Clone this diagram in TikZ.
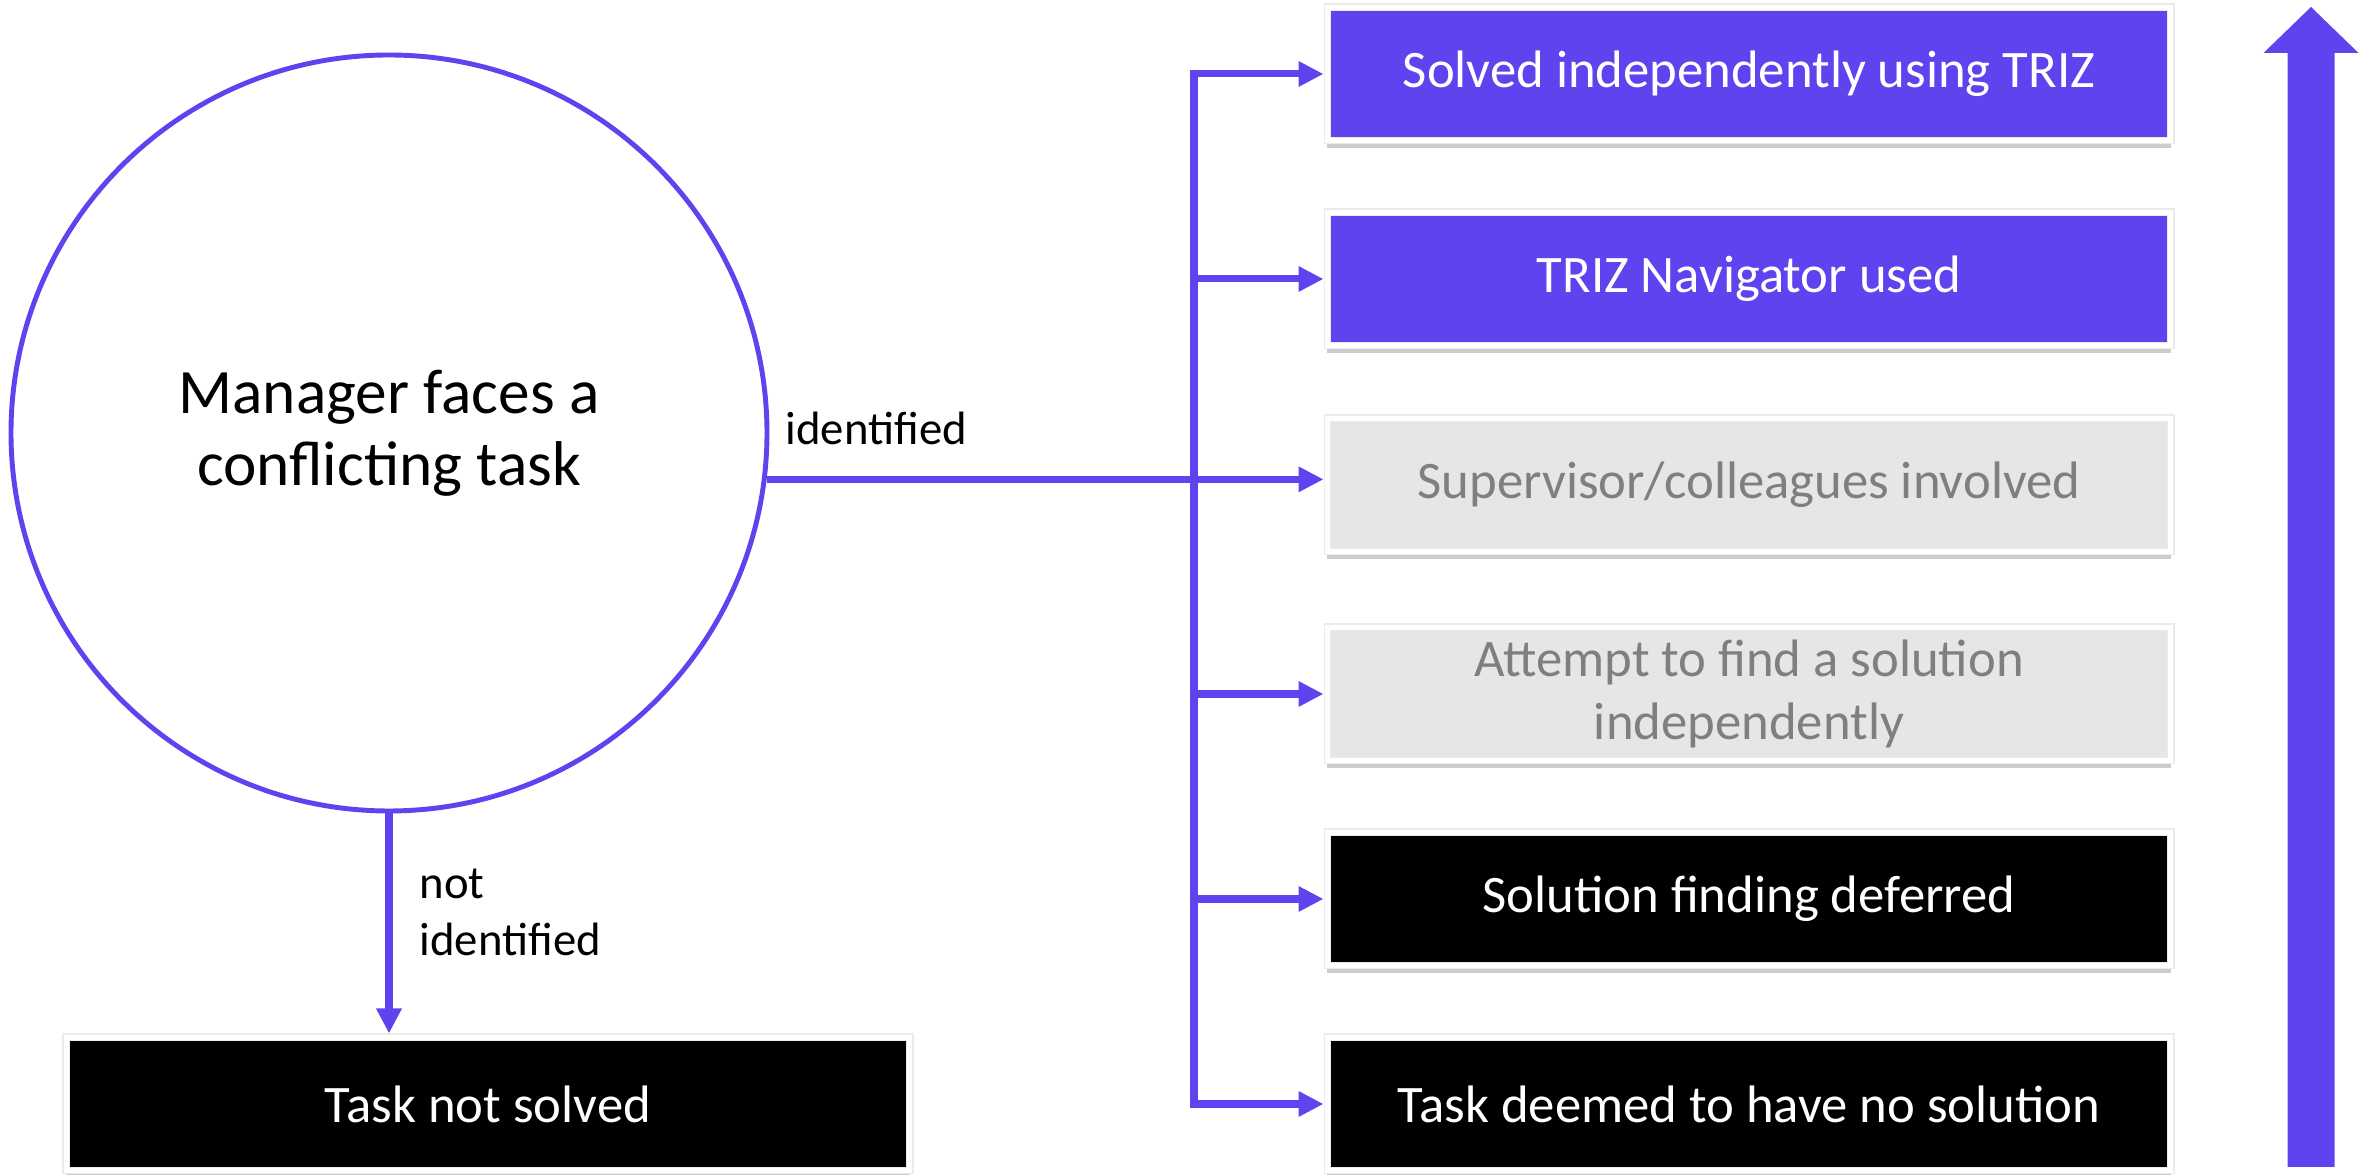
\documentclass[tikz,border=0pt]{standalone}
\usepackage{fontspec}
\setmainfont{Carlito}
\usetikzlibrary{arrows.meta,shadows}
\definecolor{trizblue}{HTML}{5E43EE}
\definecolor{boxgrey}{HTML}{E6E6E6}
\definecolor{textgrey}{HTML}{7F7F7F}

\begin{document}
\begin{tikzpicture}[>={Triangle[length=0.25cm, width=0.24cm]},
    main node/.style={circle, draw=trizblue, line width=1.4pt, fill=white, minimum size=7.56cm,
                      outer sep=0.7pt, align=center, font=\fontsize{18}{20.6}\selectfont},
    box/.style={rectangle, draw=black!8, line width=0.3pt, double=white, double distance=0.054cm,
                minimum width=8.435cm, minimum height=1.335cm, outer sep=0.0375cm,
                align=center, font=\fontsize{15}{18}\selectfont,
                drop shadow={shadow xshift=0pt, shadow yshift=-2.2pt, fill=black, opacity=0.2}},
    solved/.style={box, fill=trizblue, text=white},
    tried/.style={box, fill=boxgrey, text=textgrey},
    failed/.style={box, fill=black, text=white},
    flow/.style={line width=2pt, draw=trizblue},
    note/.style={inner sep=0pt, align=left, font=\fontsize{13.3}{16.2}\selectfont}]

  \useasboundingbox (0,0) rectangle (23.72,11.75);

  % Task and its outcomes
  \node[main node] (manager) at (3.89, 7.42) {Manager faces a\\conflicting task};
  \node[failed] (nosolve) at (4.88, 0.71) {Task not solved};

  \node[solved] (b1) at (17.49, 11.01) {Solved independently using TRIZ};
  \node[solved] (b2) at (17.49, 8.96) {TRIZ Navigator used};
  \node[tried]  (b3) at (17.49, 6.90) {Supervisor/colleagues involved};
  \node[tried]  (b4) at (17.49, 4.81) {Attempt to find a solution\\independently};
  \node[failed] (b5) at (17.49, 2.76) {Solution finding deferred};
  \node[failed] (b6) at (17.49, 0.71) {Task deemed to have no solution};

  \coordinate (fork) at (11.94, 0); % trunk x

  % Edge labels
  \node[note, anchor=base west] (yes) at (7.85, 7.30) {identified};
  \node[note, anchor=west] (no) at (4.19, 2.63) {not\\identified};

  % Trunk with top and bottom branch
  \draw[flow, <->] (b1.west) -- (b1.west -| fork) -- (b6.west -| fork) -- (b6.west);
  \foreach \b in {2,4,5}
    \draw[flow, ->] (b\b.west -| fork) -- (b\b.west);

  % From the task
  \draw[flow, ->] (manager.-7.75) -- (manager.-7.75 -| b3.west); % identified
  \draw[flow, ->] (manager.south) -- (manager.south |- nosolve.north); % not identified

  % Scale arrow
  \fill[trizblue] (22.875,0.08) -- (22.875,11.22) -- (22.635,11.22) -- (23.11,11.68)
    -- (23.585,11.22) -- (23.345,11.22) -- (23.345,0.08) -- cycle;

\end{tikzpicture}
\end{document}
